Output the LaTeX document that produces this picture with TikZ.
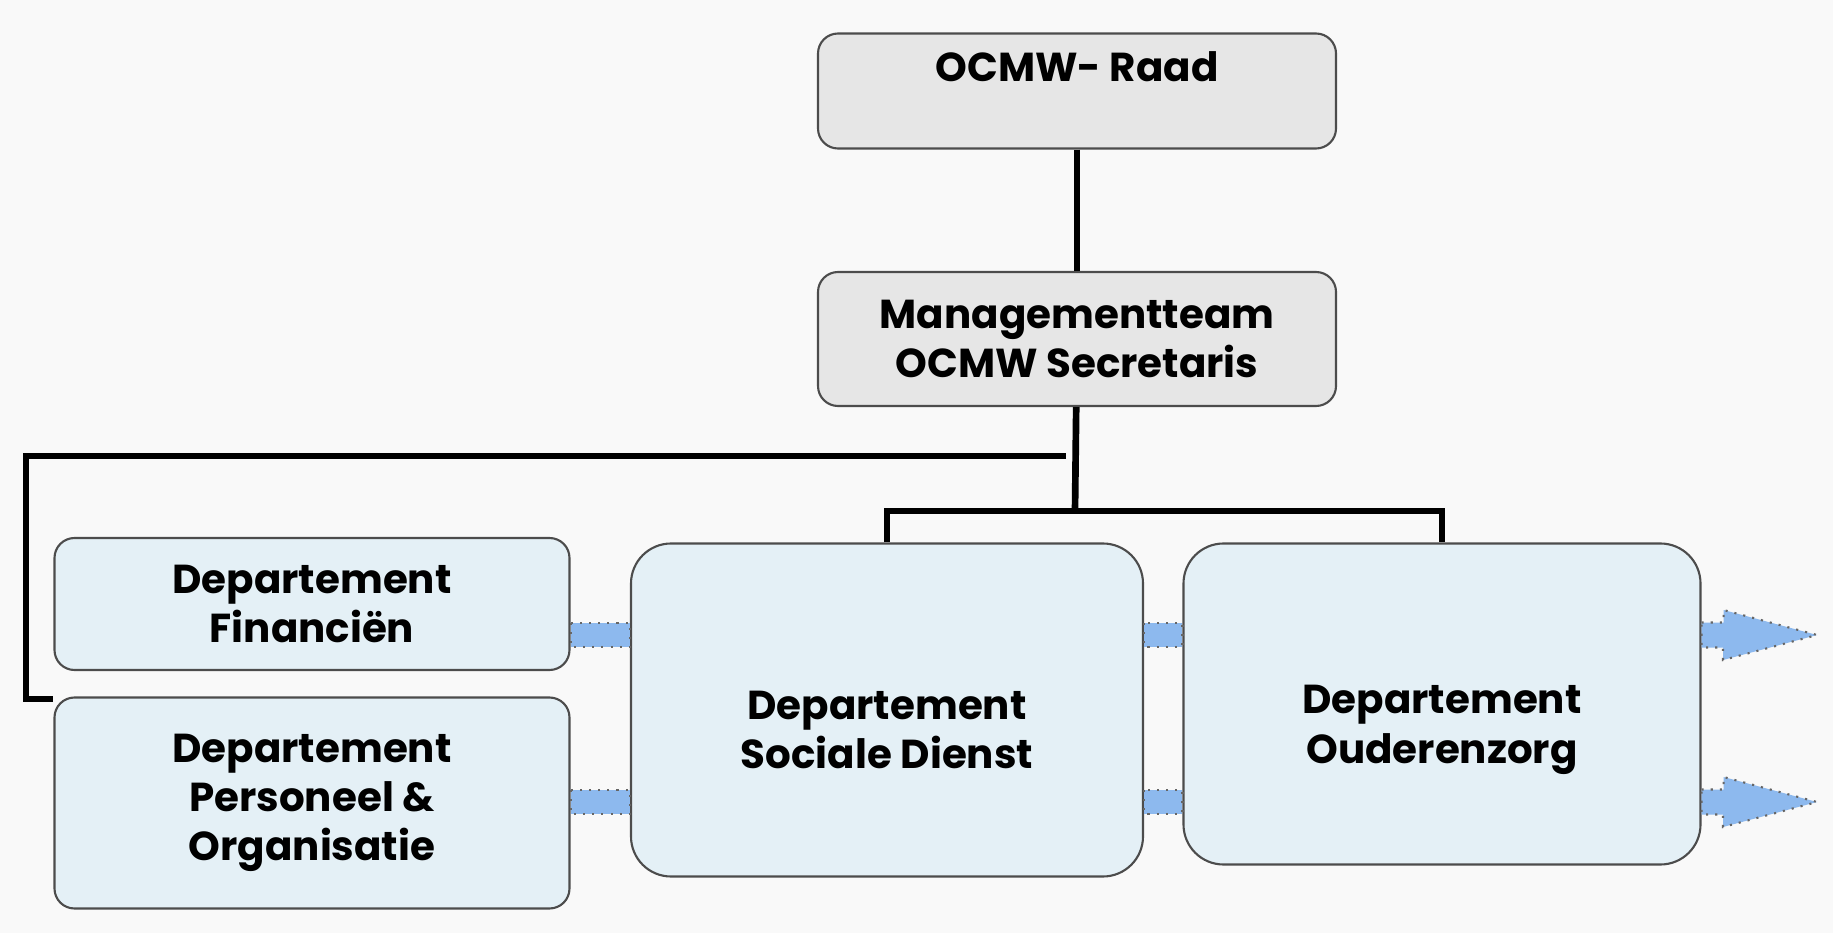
\documentclass[tikz,border=0pt]{standalone}
\usepackage{fontspec}
\setmainfont{Poppins}
\usetikzlibrary{arrows.meta}
\definecolor{bgcol}{HTML}{F9F9F9}
\definecolor{topfill}{HTML}{E6E6E6}
\definecolor{depfill}{HTML}{E4F0F6}
\definecolor{barblue}{HTML}{8DB9EE}

\begin{document}
\begin{tikzpicture}[every node/.style={font=\bfseries\fontsize{11.5}{14}\selectfont, align=center},
    topbox/.style={draw=black!70, line width=0.6pt, fill=topfill, rounded corners=0.2cm,
                   minimum width=5.18cm},
    depbox/.style={draw=black!70, line width=0.6pt, fill=depfill, rounded corners=0.2cm,
                   minimum width=5.15cm},
    bigbox/.style={depbox, rounded corners=0.4cm},
    link/.style={line width=1.9pt},
    bar/.style={fill=barblue, draw=black!60, dotted, line width=0.6pt}]
                  \useasboundingbox[fill=bgcol] (0,0) rectangle (18.33,-9.33);
                  \node[topbox, minimum height=1.15cm] (raad) at (10.77,-0.91) {OCMW- Raad\\ ~};
                  \node[topbox, minimum height=1.34cm] (mgmt) at (10.77,-3.39) {Managementteam\\OCMW Secretaris};
                  \node[depbox, minimum height=1.32cm] (fin) at (3.12,-6.04) {Departement\\Financiën};
                  \node[depbox, minimum height=2.11cm] (pers) at (3.12,-8.03) {Departement\\Personeel \&\\Organisatie};
                  \node[bigbox, minimum width=5.12cm, minimum height=3.33cm] (soc) at (8.87,-7.10) {\rule{0pt}{0.68cm}Departement\\Sociale Dienst};
                  \node[bigbox, minimum width=5.17cm, minimum height=3.21cm] (oud) at (14.42,-7.04) {\rule{0pt}{0.8cm}Departement\\Ouderenzorg};
                  \coordinate (fork) at (10.75,-5.11);
                  \coordinate (brk) at (10.66,-4.56);
                  \coordinate (brkl) at (0.26,-6.99);
                  \coordinate (brke) at (0.53,-6.99);
                  \coordinate (out1) at (18.17,-6.35);
                  \coordinate (out2) at (18.17,-8.02);
                  \draw[link] (raad) -- (mgmt);
                  \draw[link] (mgmt) -- (fork);
                  \draw[link] (soc.north) |- (fork) -| (oud.north);
                  \draw[link] (brk) -| (brkl) -- (brke);
                  \path[bar] (fin.east |- 0,-6.23) rectangle (soc.west |- 0,-6.47);
                  \path[bar] (pers.east |- 0,-7.90) rectangle (soc.west |- 0,-8.14);
                  \path[bar] (soc.east |- 0,-6.23) rectangle (oud.west |- 0,-6.47);
                  \path[bar] (soc.east |- 0,-7.90) rectangle (oud.west |- 0,-8.14);
                  \path[bar] (oud.east |- 0,-6.225) -- ++(0.22,0) -- ++(0,0.125) -- (out1)
                      -- ++(-0.94,-0.25) -- ++(0,0.125) -- (oud.east |- 0,-6.475) -- cycle;
                  \path[bar] (oud.east |- 0,-7.895) -- ++(0.22,0) -- ++(0,0.125) -- (out2)
                      -- ++(-0.94,-0.25) -- ++(0,0.125) -- (oud.east |- 0,-8.145) -- cycle;
              \end{tikzpicture}
\end{document}
